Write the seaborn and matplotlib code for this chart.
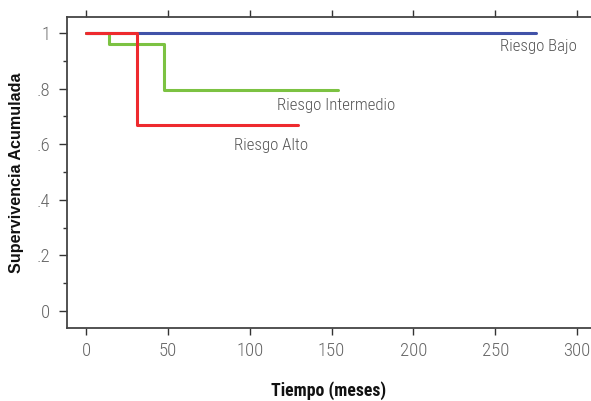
import matplotlib
matplotlib.use("Agg")
import matplotlib.pyplot as plt
import seaborn as sns
import pandas as pd
from matplotlib.ticker import MultipleLocator

# Kaplan-Meier step data (time in months, cumulative survival)
bajo_t = [0, 275]
bajo_s = [1.0, 1.0]
inter_t = [0, 14, 47.5, 154]
inter_s = [1.0, 0.961, 0.794, 0.794]
alto_t = [0, 31, 129.5]
alto_s = [1.0, 0.669, 0.669]
groups = ["Riesgo Bajo", "Riesgo Intermedio", "Riesgo Alto"]
colors = ["#4152A8", "#7CC242", "#EE2A2E"]
xticks = [0, 50, 100, 150, 200, 250, 300]
yticks = [0, 0.2, 0.4, 0.6, 0.8, 1.0]
ytick_labels = ["0", ".2", ".4", ".6", ".8", "1"]

rows = []
for g, ts, ss in zip(groups, [bajo_t, inter_t, alto_t], [bajo_s, inter_s, alto_s]):
    for t, s in zip(ts, ss):
        rows.append({"t": t, "s": s, "g": g})
df = pd.DataFrame(rows)

sns.set_style("white")
plt.rcParams['font.family'] = ['Roboto Condensed', 'DejaVu Sans']

fig = plt.figure(figsize=(5.91, 4.01), dpi=100)
ax = fig.add_axes([67/591, 73/401, 1 - 67/591, (328-17)/401])

sns.lineplot(data=df, x="t", y="s", hue="g", palette=dict(zip(groups, colors)),
             estimator=None, sort=False, drawstyle="steps-post", linewidth=2.2,
             legend=False, ax=ax)

ax.set_xlim(-11.6, 308.5)
ax.set_ylim(-0.061, 1.0576)
ax.set_xticks(xticks)
ax.set_yticks(yticks)
ax.set_yticklabels(ytick_labels)
ax.yaxis.set_minor_locator(MultipleLocator(0.1))
ax.tick_params(axis='x', which='major', bottom=True, top=True, direction='out',
               length=5, width=1, color='#333', labelsize=13.5, labelcolor='#666', pad=5)
ax.tick_params(axis='y', which='major', left=True, direction='out', length=6,
               width=1, color='#333', labelsize=13.5, labelcolor='#666', pad=6)
ax.tick_params(axis='y', which='minor', left=True, direction='out', length=3,
               width=1, color='#333')
for lab in ax.get_xticklabels() + ax.get_yticklabels():
    lab.set_fontweight('light')
for side in ['left', 'bottom', 'top']:
    ax.spines[side].set_color('#444')
    ax.spines[side].set_linewidth(1.3)
ax.spines['right'].set_visible(False)

ax.set_xlabel("Tiempo (meses)", fontsize=12.8, fontweight='bold', color='#111', labelpad=15)
ax.set_ylabel("Supervivencia Acumulada", fontsize=11.6, fontweight='bold', color='#111',
              labelpad=9, family=['Liberation Sans', 'DejaVu Sans'])

ax.text(300, 0.95, "Riesgo Bajo", fontsize=12.2, color='#555', ha='right', va='center', fontweight='light')
ax.text(188.8, 0.741, "Riesgo Intermedio", fontsize=12.2, color='#555', ha='right', va='center', fontweight='light')
ax.text(135.6, 0.597, "Riesgo Alto", fontsize=12.2, color='#555', ha='right', va='center', fontweight='light')

fig.savefig("out.png", dpi=100)
